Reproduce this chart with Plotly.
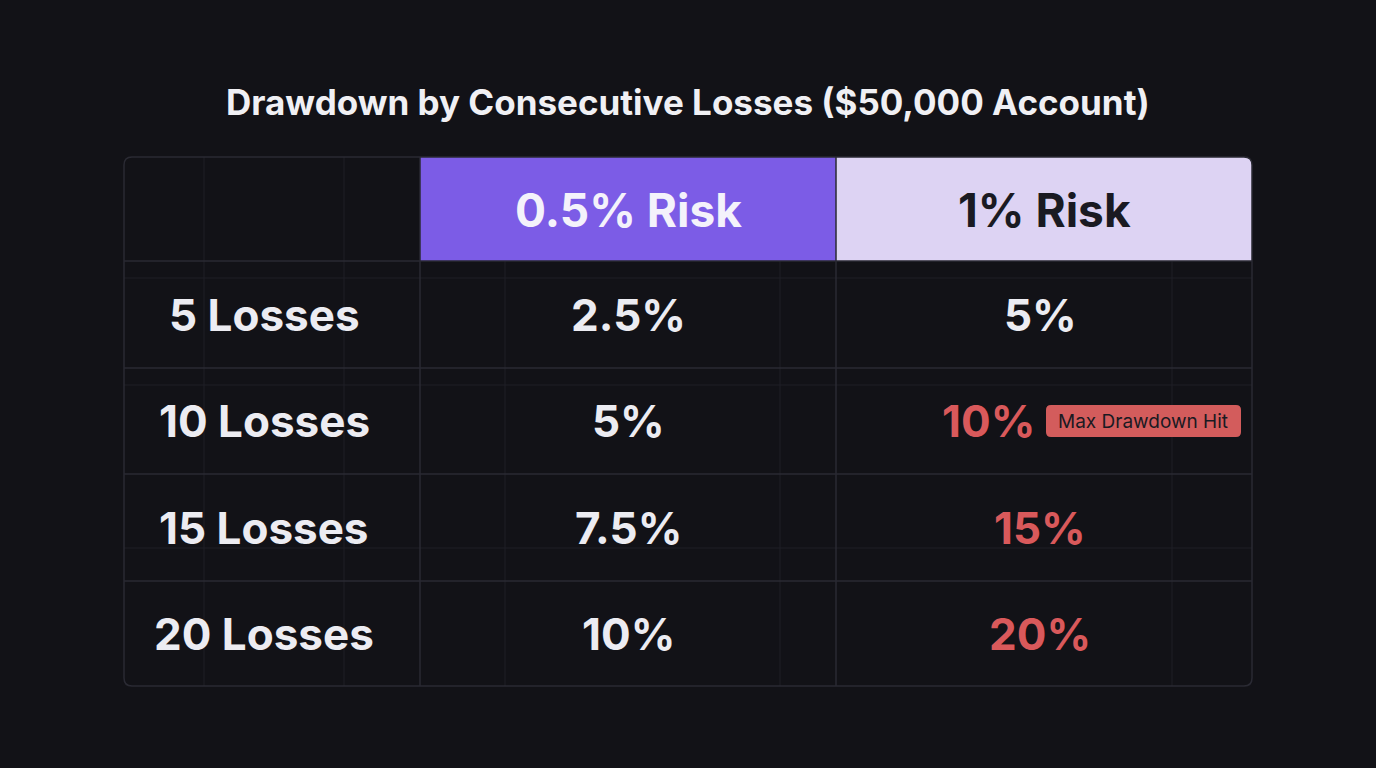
import plotly.graph_objects as go

title = "Drawdown by Consecutive Losses ($50,000 Account)"
row_labels = ["5 Losses", "10 Losses", "15 Losses", "20 Losses"]
col_labels = ["0.5% Risk", "1% Risk"]
risk_05 = ["2.5%", "5%", "7.5%", "10%"]
risk_1 = ["5%", "10%", "15%", "20%"]
over_limit_1 = [False, True, True, True]
badge_text = "Max Drawdown Hit"

W, H = 1376, 768
BG = "#121217"
GRID = "#2a2a33"
FAINT = "#1e1e26"
x_edges = [124, 420, 836, 1252]
y_edges = [157, 261, 368, 474, 581, 686]

fig = go.Figure()
shapes = []
for x in [204, 344, 505, 780, 1172]:
    shapes.append(dict(type="line", x0=x, x1=x, y0=157, y1=686, line=dict(color=FAINT, width=1)))
for y in [278, 385, 548]:
    shapes.append(dict(type="line", x0=124, x1=1252, y0=y, y1=y, line=dict(color=FAINT, width=1)))
shapes.append(dict(type="rect", x0=420, x1=836, y0=157, y1=261, fillcolor="#7c5ce6", line=dict(width=0)))
shapes.append(dict(type="path", path="M 836 157 L 1244 157 Q 1252 157 1252 165 L 1252 261 L 836 261 Z",
                   fillcolor="#ddd3f3", line=dict(width=0)))
for x in x_edges[1:-1]:
    shapes.append(dict(type="line", x0=x, x1=x, y0=157, y1=686, line=dict(color=GRID, width=1.5)))
for y in y_edges[1:-1]:
    shapes.append(dict(type="line", x0=124, x1=1252, y0=y, y1=y, line=dict(color=GRID, width=1.5)))
shapes.append(dict(type="path", path="M 132 157 L 1244 157 Q 1252 157 1252 165 L 1252 678 Q 1252 686 1244 686 L 132 686 Q 124 686 124 678 L 124 165 Q 124 157 132 157 Z",
                   line=dict(color=GRID, width=1.5)))
shapes.append(dict(type="path", path="M 1051 405 L 1236 405 Q 1241 405 1241 410 L 1241 432 Q 1241 437 1236 437 L 1051 437 Q 1046 437 1046 432 L 1046 410 Q 1046 405 1051 405 Z",
                   fillcolor="#d35c5c", line=dict(width=0)))

ann = []
FONT = "Inter, Noto Sans, sans-serif"
def b(t):
    return "<b>" + t + "</b>"
ann.append(dict(x=688, y=102, text=b(title), showarrow=False, font=dict(size=35, color="#f0f0f4", family=FONT)))
ann.append(dict(x=628, y=210, text=b(col_labels[0]), showarrow=False, font=dict(size=46, color="#f4f2fb", family=FONT)))
ann.append(dict(x=1044, y=210, text=b(col_labels[1]), showarrow=False, font=dict(size=46, color="#1a1a22", family=FONT)))
for i, lab in enumerate(row_labels):
    yc = (y_edges[i+1] + y_edges[i+2]) / 2
    ann.append(dict(x=264, y=yc, text=b(lab), showarrow=False, font=dict(size=44, color="#ececf2", family=FONT)))
    ann.append(dict(x=628, y=yc, text=b(risk_05[i]), showarrow=False, font=dict(size=44, color="#ececf2", family=FONT)))
    col = "#d9595b" if over_limit_1[i] else "#ececf2"
    xc = 988 if i == 1 else 1040
    ann.append(dict(x=xc, y=yc, text=b(risk_1[i]), showarrow=False, font=dict(size=44, color=col, family=FONT)))
ann.append(dict(x=1143, y=421, text=badge_text, showarrow=False, font=dict(size=19, color="#1a1a22", family=FONT)))

fig.update_layout(width=W, height=H, margin=dict(l=0, r=0, t=0, b=0),
                  paper_bgcolor=BG, plot_bgcolor=BG, shapes=shapes, annotations=ann, showlegend=False,
                  xaxis=dict(range=[0, W], visible=False, fixedrange=True),
                  yaxis=dict(range=[H, 0], visible=False, fixedrange=True))
fig.write_html("out.html", config={"displayModeBar": False})
with open("out.html", encoding="utf-8") as f:
    html = f.read()
html = html.replace("<head>", "<head><style>html,body{margin:0;padding:0;background:#121217;overflow:hidden}</style>", 1)
with open("out.html", "w", encoding="utf-8") as f:
    f.write(html)
